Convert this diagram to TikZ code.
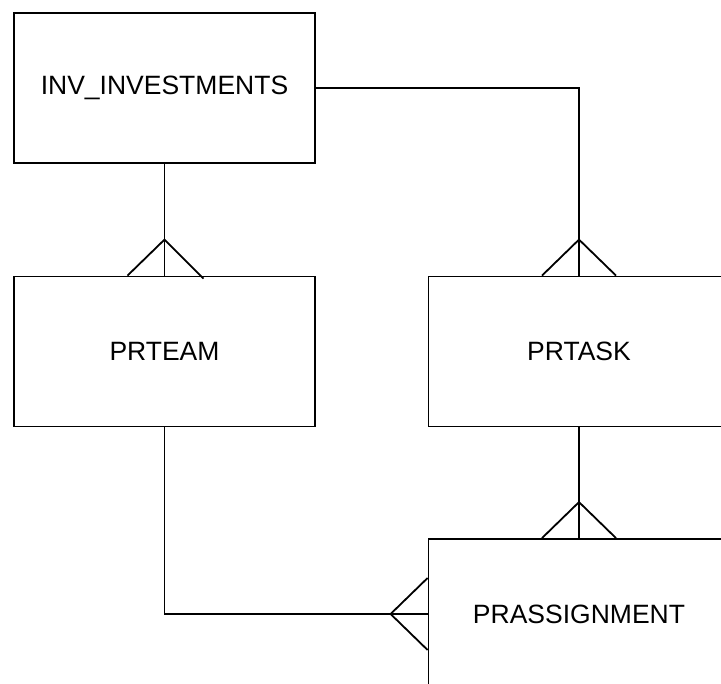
\documentclass[tikz,border=0pt]{standalone}
\usepackage{fontspec}
\setmainfont{Liberation Sans}
\begin{document}
\begin{tikzpicture}[x=1pt,y=-1pt,
  entity/.style={draw,line width=1.8pt,minimum width=301pt,minimum height=150pt,inner sep=0pt,
    font=\fontsize{26.5}{30}\selectfont},
  link/.style={line width=1.8pt}]
\useasboundingbox (0,0) rectangle (721,684);
\clip (0,0) rectangle (721,684);
\fill[white] (0,0) rectangle (721,684);
\node[entity] (inv) at (164.5,88) {INV\_INVESTMENTS};
\node[entity] (team) at (164.5,351.5) {PRTEAM};
\node[entity] (task) at (579,351.5) {PRTASK};
\node[entity] (asg) at (579,614) {PRASSIGNMENT};
% connectors
\draw[link] (inv.south) -- (team.north);
\draw[link] (inv.east) -| (task.north);
\draw[link] (task.south) -- (asg.north);
\draw[link] (team.south) |- (asg.west);
% crow's feet
\draw[link] (team.north) ++(-37,0) -- ++(37,-36) -- ++(39,39);
\draw[link] (task.north) ++(-37,0) -- ++(37,-36) -- ++(37,36);
\draw[link] (asg.north) ++(-37,0) -- ++(37,-36) -- ++(37,36);
\draw[link] (asg.west) ++(0,-36) -- ++(-37,36) -- ++(37,36);
\end{tikzpicture}
\end{document}
